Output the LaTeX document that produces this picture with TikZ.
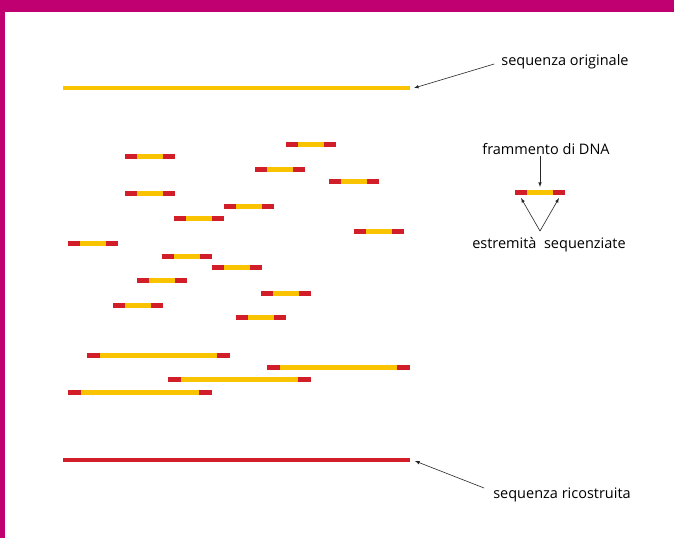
\documentclass[tikz,border=0pt]{standalone}
\usepackage{fontspec}
\setmainfont{Open Sans}
\usetikzlibrary{positioning}
\definecolor{framepink}{RGB}{192,0,112}
\definecolor{seqyellow}{RGB}{249,195,0}
\definecolor{seqred}{RGB}{210,30,40}
\tikzset{
	note/.style={font=\fontsize{14.5}{16}\selectfont, inner sep=1pt, text=black},
	pointer/.style={-latex, semithick, black!85},
}
% short fragment: red end, yellow middle, red end
\newcommand{\frag}[2]{
	\draw[seqyellow, line width=5] (#1,#2) -- ++(50,0);
	\draw[seqred, line width=5] (#1,#2) -- ++(12,0);
	\draw[seqred, line width=5] (#1+38,#2) -- ++(12,0);
}
% long fragment
\newcommand{\longfrag}[3]{
	\draw[seqyellow, line width=5] (#1,#3) -- (#2,#3);
	\draw[seqred, line width=5] (#1,#3) -- ++(13,0);
	\draw[seqred, line width=5] (#2,#3) -- ++(-13,0);
}
\begin{document}
\begin{tikzpicture}[x=1pt, y=-1pt]
	\useasboundingbox (0,0) rectangle (674,538);
	\fill[white] (0,0) rectangle (674,538);
	\fill[framepink] (0,0) rectangle (674,12);
	\fill[framepink] (0,0) rectangle (5,538);
	% sequences
	\draw[seqyellow, line width=4] (63,88) -- (410,88);
	\draw[seqred, line width=4] (63,460) -- (410,460);
	\coordinate (orig) at (414,88);
	\coordinate (ricos) at (415,461);
	% random fragments
	\foreach \x/\y in {286/144, 125/156, 255/169, 329/181, 125/193, 224/206, 174/218, 354/231,
		68/243, 162/256, 212/267, 137/280, 261/293, 113/305, 236/317}
		{\frag{\x}{\y}}
	\longfrag{87}{230}{355}
	\longfrag{267}{410}{367}
	\longfrag{168}{311}{379}
	\longfrag{68}{212}{392}
	% legend fragment
	\frag{515}{192}
	\coordinate (fragtop) at (540,187);
	\coordinate (endl) at (521,198);
	\coordinate (endr) at (559,198);
	\coordinate (vtip) at (540,231);
	\node[note] (original) at (565,62) {sequenza originale};
	\node[note] (fragment) at (546,149) {frammento di DNA};
	\node[note] (ends) at (549,245) {estremità\ \ sequenziate};
	\node[note] (rebuilt) at (562,495) {sequenza ricostruita};
	\draw[pointer] (original.west) ++(-6,2) -- (orig);
	\draw[pointer] (fragment.south -| fragtop) -- (fragtop);
	\draw[pointer] (vtip) -- (endl);
	\draw[pointer] (vtip) -- (endr);
	\draw[pointer] (rebuilt.west) ++(-8,-7) -- (ricos);
\end{tikzpicture}
\end{document}
